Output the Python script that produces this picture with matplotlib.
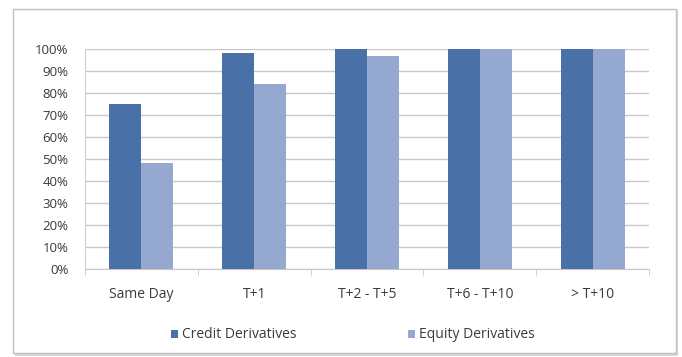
import matplotlib
matplotlib.use("Agg")
import matplotlib.pyplot as plt
import numpy as np
from matplotlib.patches import Rectangle

categories = ["Same Day", "T+1", "T+2 - T+5", "T+6 - T+10", "> T+10"]
credit = [75, 98, 100, 100, 100]
equity = [48, 84, 97, 100, 100]
series_names = ["Credit Derivatives", "Equity Derivatives"]
yticks = list(range(0, 101, 10))

dark = "#4A70A8"
light = "#94A8D0"
text_color = "#3A3A3A"

W, H = 682, 357
fig = plt.figure(figsize=(W / 100, H / 100), dpi=100)
fig.patch.set_facecolor("white")
plt.rcParams["font.family"] = ["Open Sans", "DejaVu Sans"]

# chart frame with a soft shadow
fig.patches.append(Rectangle((15 / W, 1 - 356 / H), 663 / W, 346 / H,
                             transform=fig.transFigure, facecolor="#D8D8D8",
                             edgecolor="none", zorder=0))
fig.patches.append(Rectangle((13 / W, 1 - 353 / H), 663 / W, 344 / H,
                             transform=fig.transFigure, facecolor="white",
                             edgecolor="#BFBFBF", linewidth=1.0, zorder=1))

ax = fig.add_axes([85 / W, 1 - 269 / H, 564 / W, 220 / H])
ax.set_facecolor("none")
ax.set_zorder(2)

x = np.arange(len(categories))
bw = 0.283
ax.bar(x - bw / 2, credit, bw, color=dark, label=series_names[0], zorder=3)
ax.bar(x + bw / 2, equity, bw, color=light, label=series_names[1], zorder=3)

ax.set_xlim(-0.5, len(categories) - 0.5)
ax.set_ylim(0, 100)
ax.set_yticks(yticks)
ax.set_yticklabels([f"{v}%" for v in yticks], fontsize=9.5, color=text_color)
ax.yaxis.grid(True, color="#C8C8C8", linewidth=1.0, zorder=0)
ax.set_axisbelow(True)

ax.set_xticks(x)
ax.set_xticklabels(categories, fontsize=10, color=text_color)
ax.tick_params(axis="x", length=0, pad=13)
ax.tick_params(axis="y", length=0, pad=12)
ax.set_xticks(np.arange(-0.5, len(categories), 1.0), minor=True)
ax.tick_params(axis="x", which="minor", length=4, color="#C8C8C8", direction="out")

for s in ["top", "right"]:
    ax.spines[s].set_visible(False)
ax.spines["left"].set_color("#D0D0D0")
ax.spines["bottom"].set_color("#C8C8C8")

leg = fig.legend(loc="center", bbox_to_anchor=(353 / W, 1 - 335 / H), ncol=2,
                 frameon=False, fontsize=10, handlelength=0.5, handleheight=0.5,
                 handletextpad=0.3, columnspacing=8.0, labelcolor=text_color)

fig.savefig("out.png", dpi=100, facecolor="white")
